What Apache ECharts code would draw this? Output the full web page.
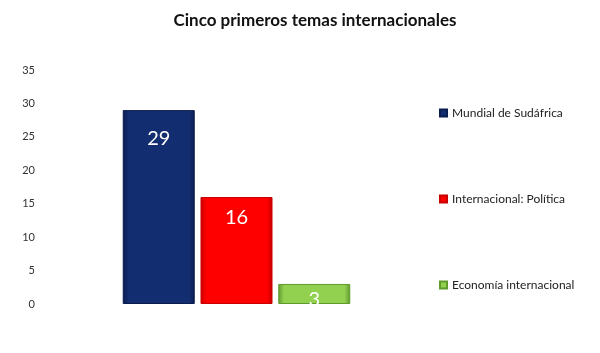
<!DOCTYPE html>
<html lang="es">
<head>
    <meta charset="UTF-8">
    <title>Cinco primeros temas internacionales</title>
    <script src="https://cdn.jsdelivr.net/npm/echarts@6/dist/echarts.min.js"></script>
    <style type="text/css">
        html,body{margin:0;padding:0;background:#fff;}
        #chart{width:600px;height:353px;}
    </style>
</head>
<body>
<div id="chart"></div>
<script type="text/javascript">
    // datos
    var categorias = ['Temas'];
    var seriesNames = ['Mundial de Sudáfrica', 'Internacional: Política', 'Economía internacional'];
    var valores = [29, 16, 3];
    var yTicks = [0, 5, 10, 15, 20, 25, 30, 35];

    var fuente = 'Lato, "Open Sans", sans-serif';
    // colores con efecto bisel (bordes más oscuros)
    var colores = [
        ['#0a1d4f', '#122d70', '#0a1d4f'],
        ['#c80000', '#ff0000', '#c80000'],
        ['#5f9a2c', '#92d050', '#5f9a2c']
    ];
    var distancias = [18, 11, 6];

    function grad(c){
        return new echarts.graphic.LinearGradient(0, 0, 1, 0, [
            {offset: 0, color: c[0]},
            {offset: 0.08, color: c[1]},
            {offset: 0.92, color: c[1]},
            {offset: 1, color: c[2]}
        ]);
    }

    var series = [];
    for (var i = 0; i < seriesNames.length; i++) {
        series.push({
            name: seriesNames[i],
            type: 'bar',
            barWidth: 72,
            barGap: '8%',
            data: [valores[i]],
            itemStyle: {color: grad(colores[i]), borderColor: colores[i][0], borderWidth: 1},
            label: {
                show: true,
                position: 'insideTop',
                distance: distancias[i],
                color: '#fff',
                fontSize: 20,
                fontFamily: fuente
            }
        });
    }

    var chart = echarts.init(document.getElementById('chart'));
    chart.setOption({
        animation: false,
        color: ['#122d70', '#ff0000', '#92d050'],
        title: {
            text: 'Cinco primeros temas internacionales',
            left: 310,
            textAlign: 'center',
            top: 7,
            textStyle: {fontSize: 17, fontWeight: 'bold', color: '#111', fontFamily: fuente}
        },
        legend: {
            orient: 'vertical',
            left: 434,
            top: 102,
            itemWidth: 7,
            itemHeight: 7,
            itemGap: 74,
            icon: 'rect',
            data: seriesNames,
            textStyle: {fontSize: 12, color: '#222', fontFamily: fuente}
        },
        grid: {left: 40, right: 167, top: 70, bottom: 49},
        xAxis: {
            type: 'category',
            data: categorias,
            axisLine: {show: false},
            axisTick: {show: false},
            axisLabel: {show: false}
        },
        yAxis: {
            type: 'value',
            min: yTicks[0],
            max: yTicks[yTicks.length - 1],
            interval: 5,
            axisLine: {show: false},
            axisTick: {show: false},
            splitLine: {show: false},
            axisLabel: {margin: 5, fontSize: 11, color: '#333', fontFamily: fuente}
        },
        series: series
    });
</script>
</body>
</html>
